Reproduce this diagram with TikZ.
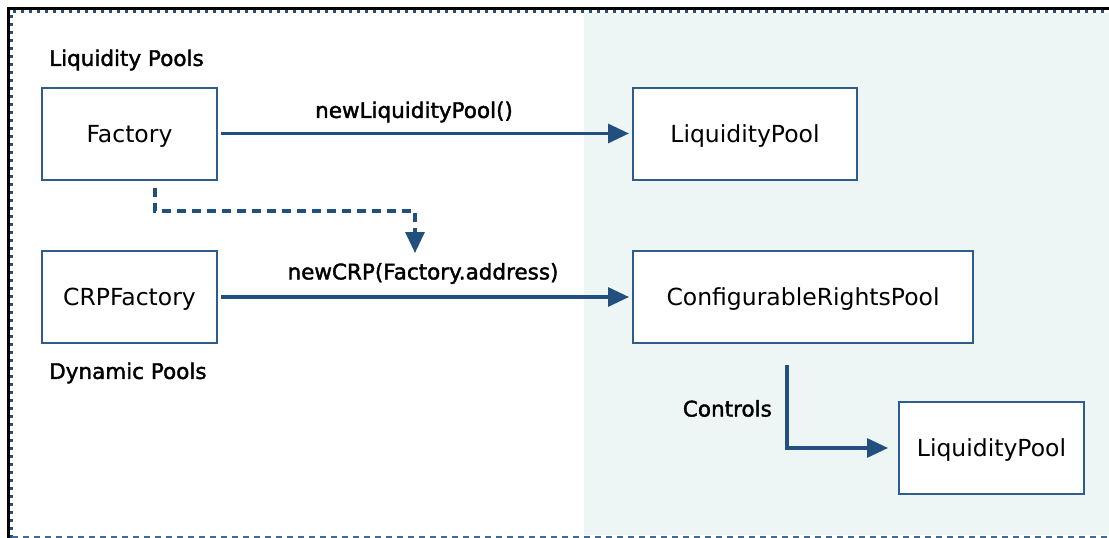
\documentclass[tikz,border=0pt]{standalone}
\usepackage{fontspec}
\setmainfont{DejaVu Sans}
\newfontfamily\labelfont[FakeBold=1.8]{DejaVu Sans}
\usetikzlibrary{arrows.meta}
\definecolor{edgeblue}{HTML}{21507F}
\definecolor{boxblue}{HTML}{2F5C8A}
\definecolor{panelgreen}{HTML}{EDF6F5}
\tikzset{
  box/.style={draw=boxblue, line width=2pt, fill=white, minimum width=#1, minimum height=92pt, inner sep=0pt, text depth=0pt, font=\fontsize{23.5}{28}\selectfont},
  caption/.style={font=\labelfont\fontsize{21.5}{25}\selectfont, inner sep=0pt},
  flow/.style={draw=edgeblue, line width=3.2pt, -{Triangle[length=21pt,width=19pt]}},
  dashflow/.style={flow, dash pattern=on 9pt off 6pt},
}
\begin{document}
\begin{tikzpicture}[x=1pt,y=-1pt]
\useasboundingbox (0,0) rectangle (1109,538);
% right-hand panel
\fill[panelgreen] (584,13) rectangle (1109,535);
% frame
\draw[black, line width=2.8pt] (8.7,538) -- (8.7,8.4) -- (1109,8.4);
\draw[edgeblue, line width=3pt, dash pattern=on 3pt off 5pt] (11.5,538) -- (11.5,11.5) -- (1109,11.5);
\draw[edgeblue!85, line width=2pt, dash pattern=on 6pt off 5pt] (11.5,536.5) -- (1109,536.5);

% boxes
\node[box=175pt] (factory) at (129.5,133.5) {Factory};
\node[box=224pt] (lp1) at (745,133.5) {LiquidityPool};
\node[box=175pt] (crpf) at (129.5,297) {CRPFactory};
\node[box=340pt] (crp) at (803,297) {ConfigurableRightsPool};
\node[box=185pt] (lp2) at (991.5,448) {LiquidityPool};

% captions
\node[caption, anchor=west] (lpcap) at (49,60) {Liquidity Pools};
\node[caption, anchor=west] (dpcap) at (49,373) {Dynamic Pools};
\node[caption] (newlp) at (414,112) {newLiquidityPool()};
\node[caption] (newcrp) at (423,273.5) {newCRP(Factory.address)};
\node[caption, anchor=east] (ctrl) at (772,408.5) {Controls};

% connectors
\draw[flow] ([xshift=3pt]factory.east) -- ([xshift=-3pt]lp1.west);
\draw[flow] ([xshift=3pt]crpf.east) -- ([xshift=-3pt]crp.west);
\coordinate (dstart) at (155,188);
\coordinate (dend) at (415,253);
\draw[dashflow] (dstart) -- (155,211) -- (415,211) -- (dend);
\coordinate (cstart) at (787,365);
\draw[flow] (cstart) |- ([xshift=-10pt]lp2.west);
\end{tikzpicture}
\end{document}
